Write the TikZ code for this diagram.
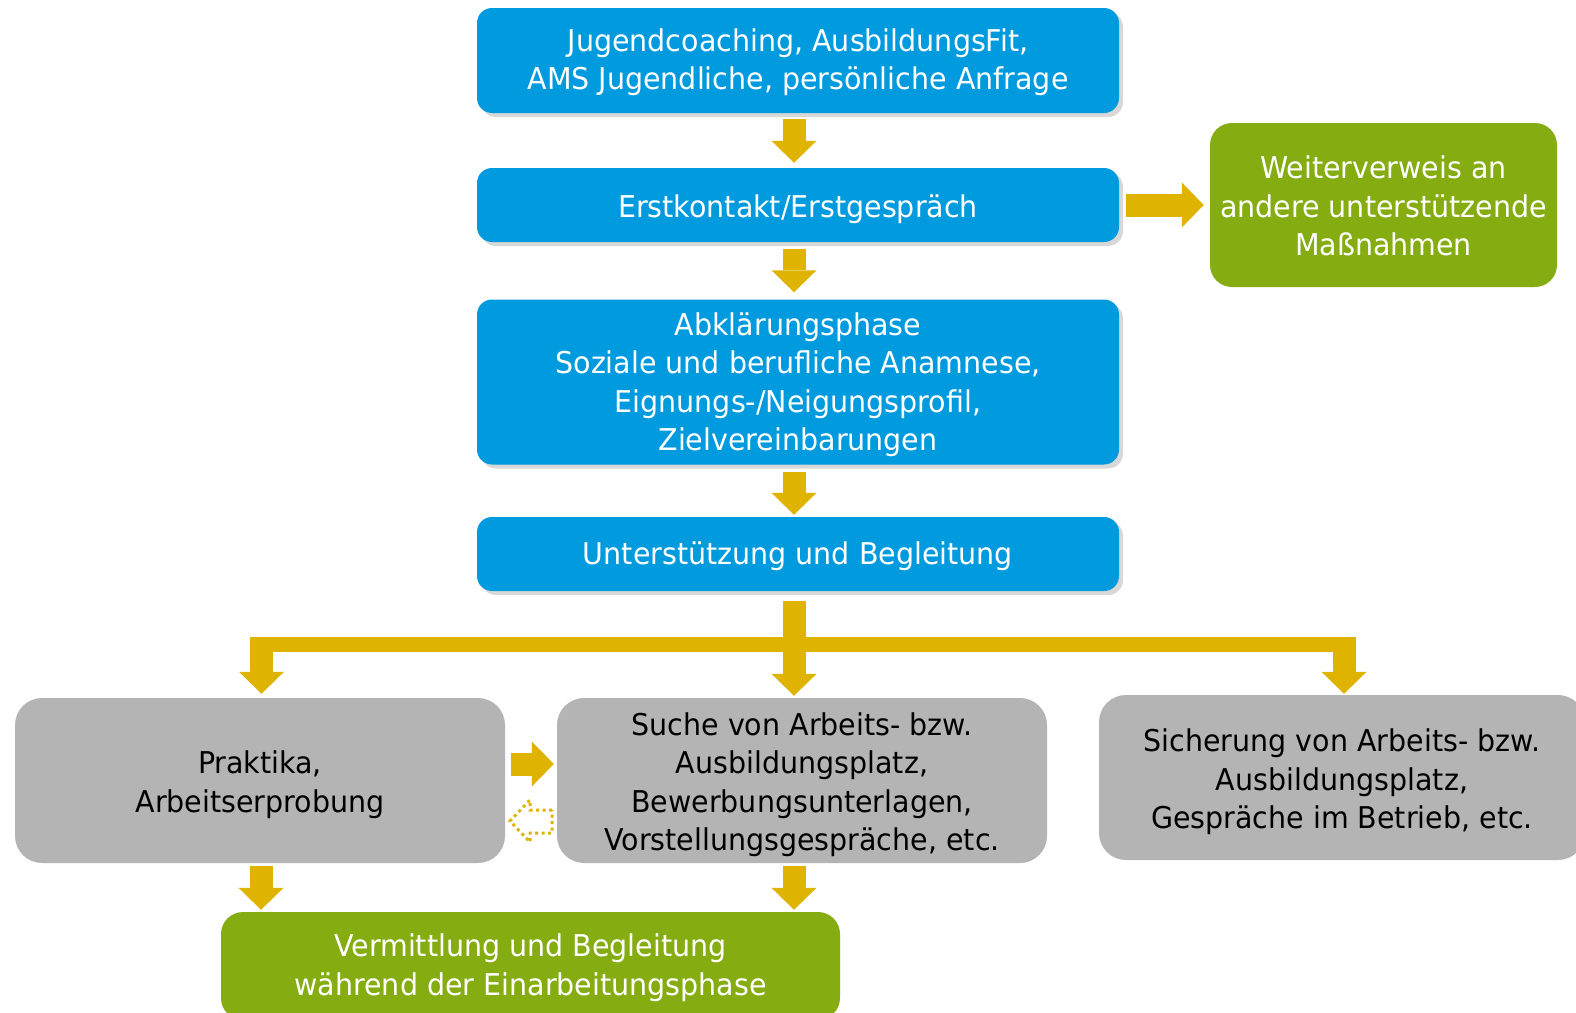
\documentclass[tikz,border=0pt]{standalone}
\usepackage{fontspec}
\setmainfont{DejaVu Sans}[FakeStretch=0.95]
\usetikzlibrary{arrows.meta,shadows,calc}
\definecolor{ablue}{RGB}{0,154,222}
\definecolor{agreen}{RGB}{133,173,18}
\definecolor{agold}{RGB}{222,180,0}
\definecolor{agray}{RGB}{180,180,180}
\begin{document}
\begin{tikzpicture}[x=1pt,y=-1pt,
  boxbase/.style={rectangle, inner sep=0pt, align=center,
    font=\fontsize{30}{38.5}\selectfont},
  bluebox/.style={boxbase, fill=ablue, text=white, rounded corners=15pt,
    minimum width=642pt,
    drop shadow={opacity=0.3, shadow xshift=4pt, shadow yshift=-4pt}},
  greenbox/.style={boxbase, fill=agreen, text=white, rounded corners=22pt},
  graybox/.style={boxbase, fill=agray, text=black, rounded corners=27pt,
    minimum height=165pt},
  barrow/.style={draw=agold, line width=23pt,
    -{Triangle[width=45pt,length=22pt,line width=0pt]}},
]
\clip (0,0) rectangle (1576,1012);
\fill[white] (0,0) rectangle (1576,1012);

\coordinate (ax) at (794,0);
\coordinate (ry) at (0,764);

\node[bluebox, minimum height=105pt, text height=65pt] (b1) at (798,60.5)
  {Jugendcoaching, AusbildungsFit,\\AMS Jugendliche, persönliche Anfrage};
\node[bluebox, minimum height=74pt, text height=31pt] (b2) at (798,205)
  {Erstkontakt/Erstgespräch};
\node[bluebox, minimum height=165pt, text height=144pt] (b3) at (798,382)
  {Abklärungsphase\\Soziale und berufliche Anamnese,\\Eignungs-/Neigungsprofil,\\Zielvereinbarungen};
\node[bluebox, minimum height=74pt, text height=27pt] (b4) at (798,554)
  {Unterstützung und Begleitung};

\node[greenbox, minimum width=347pt, minimum height=164pt, text height=102pt] (g1) at (1383.5,205)
  {Weiterverweis an\\andere unterstützende\\Maßnahmen};

\node[graybox, minimum width=490pt, text height=69.5pt] (gl) at (260,780.5)
  {Praktika,\\Arbeitserprobung};
\node[graybox, minimum width=490pt, text height=146.5pt] (gm) at (802,780.5)
  {Suche von Arbeits- bzw.\\Ausbildungsplatz,\\Bewerbungsunterlagen,\\Vorstellungsgespräche, etc.};
\node[graybox, minimum width=486pt, text height=109pt] (gr) at (1342,777.5)
  {Sicherung von Arbeits- bzw.\\Ausbildungsplatz,\\Gespräche im Betrieb, etc.};

\node[greenbox, minimum width=619pt, minimum height=108pt, text height=64.5pt] (gb) at (530.5,966)
  {Vermittlung und Begleitung\\während der Einarbeitungsphase};

% vertical arrows
\draw[barrow, shorten <=6pt, shorten >=5pt] (b1.south -| ax) -- (b2.north -| ax);
\draw[barrow, shorten <=7pt, shorten >=7pt] (b2.south -| ax) -- (b3.north -| ax);
\draw[barrow, shorten <=7pt, shorten >=2pt] (b3.south -| ax) -- (b4.north -| ax);
\draw[barrow] (b2.east) ++(7,0) coordinate (r0) -- ($(g1.west)+(-6,0)$) coordinate (r1);

% branch
\coordinate (barL) at (250,644.5);
\coordinate (barR) at (1355,644.5);
\coordinate (armL) at (261.5,637);
\coordinate (armR) at (1344,637);
\draw[agold, line width=15pt] (barL) -- (barR);
\draw[barrow, shorten <=10pt, shorten >=2pt] (b4.south -| ax) -- (gm.north -| ax);
\draw[barrow, shorten >=4pt] (armL) -- (armL |- gl.north);
\draw[barrow, shorten >=1pt] (armR) -- (armR |- gr.north);

% between gray boxes
\draw[barrow, shorten <=6pt, shorten >=3pt] (gl.east |- ry) -- (gm.west |- ry);
\draw[agold, line width=3pt, dash pattern=on 3pt off 3.5pt]
  (552,810) -- (530,810) -- (530,800) -- (510,821) -- (530,842) -- (530,833) -- (552,833) -- cycle;

% down to bottom green
\coordinate (axl) at (261,0);
\draw[barrow, shorten <=3pt, shorten >=2pt] (gl.south -| axl) -- (gb.north -| axl);
\draw[barrow, shorten <=3pt, shorten >=2pt] (gm.south -| ax) -- (gb.north -| ax);
\end{tikzpicture}
\end{document}
